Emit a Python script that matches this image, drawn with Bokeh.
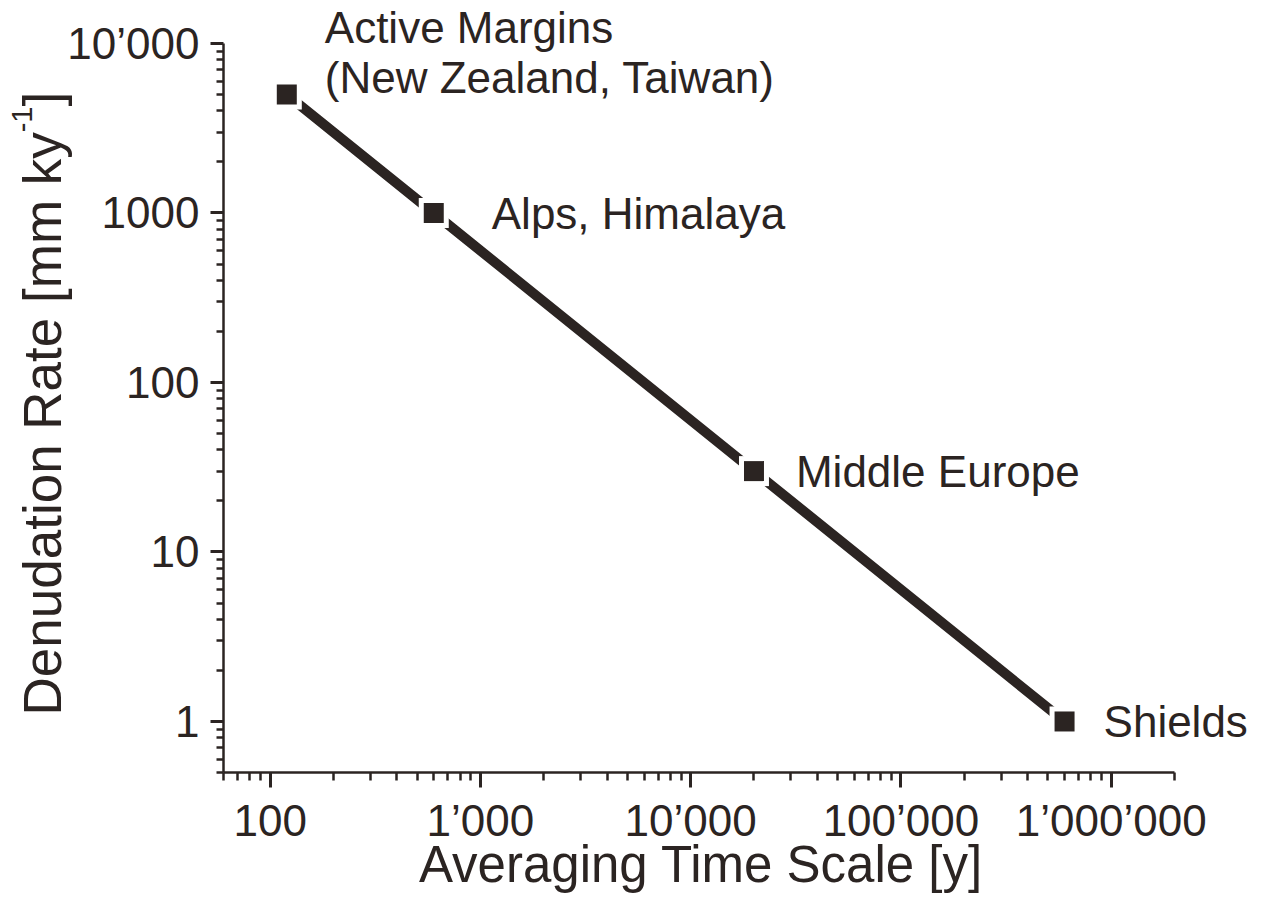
import math
from bokeh.plotting import figure
from bokeh.models import Label, FixedTicker
from bokeh.embed import file_html
from bokeh.resources import INLINE

# ---------------- data ----------------
regions = ["Active Margins", "Alps, Himalaya", "Middle Europe", "Shields"]
region_sublabels = ["(New Zealand, Taiwan)", "", "", ""]
time_scale_y = [120, 600, 20000, 600000]          # averaging time scale [y]
denudation_rate = [5000, 1000, 30, 1]             # denudation rate [mm/ky]

x_major_ticks = [100, 1000, 10000, 100000, 1000000]
x_major_labels = ["100", "1\u2019000", "10\u2019000", "100\u2019000", "1\u2019000\u2019000"]
y_major_ticks = [1, 10, 100, 1000, 10000]
y_major_labels = ["1", "10", "100", "1000", "10\u2019000"]

x_axis_limits = (60, 2000000)
y_axis_limits = (0.5, 10000)

x_title = "Averaging Time Scale [y]"
y_title_main = "Denudation Rate [mm ky"
y_title_sup = "-1"
y_title_end = "]"

# minor ticks (2..9 per decade inside the axis limits)
x_minor_ticks = [m * 10 ** e for e in range(1, 7) for m in range(2, 10)
                 if x_axis_limits[0] <= m * 10 ** e <= x_axis_limits[1]]
y_minor_ticks = [round(m * 10.0 ** e, 6) for e in range(-1, 4) for m in range(2, 10)
                 if y_axis_limits[0] <= m * 10.0 ** e <= y_axis_limits[1]]

# ---------------- layout / style ----------------
W, H = 1247, 896
AX_LEFT, AX_RIGHT, AX_TOP, AX_BOTTOM = 223, 1174, 43, 772   # pixel extent of the axes
DARK = "#2b2422"
FONT = "Liberation Sans"
BASE_FIX = 0.385   # em shift so that the alphabetic baseline lands where intended

# the frame spans the whole canvas; the axes sit at fixed locations inside it
ppd_x = (AX_RIGHT - AX_LEFT) / math.log10(x_axis_limits[1] / x_axis_limits[0])
ppd_y = (AX_BOTTOM - AX_TOP) / math.log10(y_axis_limits[1] / y_axis_limits[0])
x_range = (x_axis_limits[0] / 10 ** (AX_LEFT / ppd_x), x_axis_limits[1] * 10 ** ((W - AX_RIGHT) / ppd_x))
y_range = (y_axis_limits[0] / 10 ** ((H - AX_BOTTOM) / ppd_y), y_axis_limits[1] * 10 ** (AX_TOP / ppd_y))

p = figure(width=W, height=H, x_axis_type="log", y_axis_type="log",
           x_range=x_range, y_range=y_range,
           output_backend="svg", toolbar_location=None,
           min_border=0, min_border_left=0, min_border_right=0,
           min_border_top=0, min_border_bottom=0)
p.outline_line_color = None
p.grid.visible = False
p.background_fill_color = "white"
p.border_fill_color = "white"

p.xaxis.ticker = FixedTicker(ticks=x_major_ticks, minor_ticks=x_minor_ticks)
p.yaxis.ticker = FixedTicker(ticks=y_major_ticks, minor_ticks=y_minor_ticks)
p.xaxis.major_label_overrides = dict(zip(x_major_ticks, x_major_labels))
p.yaxis.major_label_overrides = dict(zip(y_major_ticks, y_major_labels))
p.xaxis.bounds = x_axis_limits
p.yaxis.bounds = y_axis_limits
p.xaxis.fixed_location = y_axis_limits[0]
p.yaxis.fixed_location = x_axis_limits[0]

for ax in (p.xaxis[0], p.yaxis[0]):
    ax.axis_line_color = DARK
    ax.axis_line_width = 2.5
    ax.major_tick_line_color = DARK
    ax.minor_tick_line_color = DARK
    ax.major_tick_line_width = 3
    ax.minor_tick_line_width = 2.5
    ax.major_tick_in = 0
    ax.minor_tick_in = 0
    ax.major_label_text_font = FONT
    ax.major_label_text_font_size = "44px"
    ax.major_label_text_color = DARK
    ax.axis_label = None

p.xaxis.major_tick_out = 15
p.xaxis.minor_tick_out = 8
p.xaxis.major_label_standoff = 8
p.yaxis.major_tick_out = 13
p.yaxis.minor_tick_out = 7
p.yaxis.major_label_standoff = 11

# line + markers (white halo gives the gaps around the squares)
p.line(time_scale_y, denudation_rate, line_width=10, line_color=DARK)
p.scatter(time_scale_y, denudation_rate, marker="square", size=30,
          fill_color="white", line_color=None)
p.scatter(time_scale_y, denudation_rate, marker="square", size=20,
          fill_color=DARK, line_color=None)

# region labels (offsets in px: baseline relative to the marker centre)
LBL_SIZE = 44
label_x_offsets = [38, 58, 42, 39]
label_y_offsets = [50, -17, -17, -17]
sublabel_y_offset = 0
fix = BASE_FIX * LBL_SIZE
for i, name in enumerate(regions):
    p.add_layout(Label(x=time_scale_y[i], y=denudation_rate[i], text=name,
                       x_offset=label_x_offsets[i], y_offset=label_y_offsets[i] + fix,
                       text_font=FONT, text_font_size=f"{LBL_SIZE}px", text_color=DARK,
                       text_baseline="alphabetic", text_align="left"))
    if region_sublabels[i]:
        p.add_layout(Label(x=time_scale_y[i], y=denudation_rate[i], text=region_sublabels[i],
                           x_offset=label_x_offsets[i], y_offset=sublabel_y_offset + fix,
                           text_font=FONT, text_font_size=f"{LBL_SIZE}px", text_color=DARK,
                           text_baseline="alphabetic", text_align="left"))

# axis titles (screen units: the frame is the canvas, y counted from the bottom)
XT_SIZE = 51
p.add_layout(Label(x=(AX_LEFT + AX_RIGHT) / 2 + 2, y=H - 884 + BASE_FIX * XT_SIZE,
                   x_units="screen", y_units="screen",
                   text=x_title, text_font=FONT, text_font_size=f"{XT_SIZE}px",
                   text_color=DARK, text_align="center", text_baseline="alphabetic"))

MAIN_SIZE = 53
SUP_SIZE = 29
main_w = 11.004 * MAIN_SIZE
sup_w = 0.889 * SUP_SIZE
y_start = H - 715
for txt, size, xb, yo in [(y_title_main, MAIN_SIZE, 62, y_start),
                          (y_title_sup, SUP_SIZE, 33, y_start + main_w),
                          (y_title_end, MAIN_SIZE, 62, y_start + main_w + sup_w)]:
    p.add_layout(Label(x=xb - BASE_FIX * size, y=yo, x_units="screen", y_units="screen",
                       text=txt, angle=math.pi / 2, text_font=FONT,
                       text_font_size=f"{size}px", text_color=DARK,
                       text_align="left", text_baseline="alphabetic"))

open("out.html", "w").write(file_html(p, INLINE))
